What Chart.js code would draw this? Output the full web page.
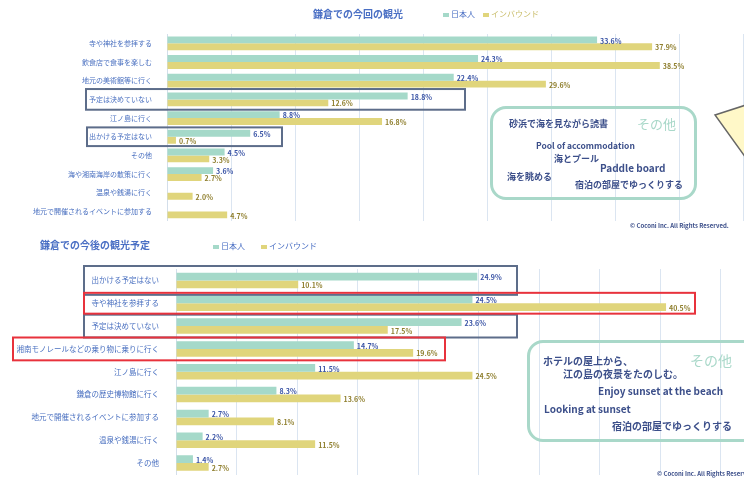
<!DOCTYPE html>
<html>
<head>
<meta charset="utf-8">
<script src="https://cdn.jsdelivr.net/npm/chart.js@4.4.1/dist/chart.umd.min.js"></script>
<style>
body{margin:0;width:744px;height:480px;overflow:hidden;position:relative;background:#fff;font-family:"Noto Sans CJK JP",sans-serif;}
.wrap{position:absolute;}
.t{position:absolute;white-space:nowrap;}
.title{font-size:10px;font-weight:bold;color:#4a6fc4;}
.leg{font-size:8px;color:#4a6fc4;}
.leg i{display:inline-block;width:6px;height:4px;margin-right:2px;vertical-align:middle;}
.box{position:absolute;border:3px solid #a9d8c9;border-radius:16px;}
.note{font-size:9px;color:#3c4f8a;font-weight:bold;}
.other{font-size:13px;color:#a9d8c9;}
.copy{font-size:6px;color:#3c4f8a;font-weight:bold;}
</style>
</head>
<body>
<div class="wrap" style="left:0;top:0;width:744px;height:232px"><canvas id="topChart"></canvas></div>
<div class="wrap" style="left:0;top:232px;width:781px;height:256px"><canvas id="bottomChart"></canvas></div>

<div class="t title" style="left:313px;top:6px">鎌倉での今回の観光</div>
<div class="t leg" style="left:443px;top:8px"><i style="background:#a5d9c9"></i>日本人　<i style="background:#e0d57c"></i><span style="color:#c9bd6a">インバウンド</span></div>
<div class="t title" style="left:40px;top:237px">鎌倉での今後の観光予定</div>
<div class="t leg" style="left:213px;top:240px"><i style="background:#a5d9c9"></i>日本人　　<i style="background:#e0d57c"></i>インバウンド</div>

<!-- その他 (top) -->
<div class="box" style="left:490px;top:106px;width:201px;height:88px"></div>
<div class="t note" style="left:509px;top:117px">砂浜で海を見ながら読書</div>
<div class="t other" style="left:637px;top:114px">その他</div>
<div class="t note" style="left:536px;top:139px;font-size:8.5px">Pool of accommodation</div>
<div class="t note" style="left:554px;top:152px">海とプール</div>
<div class="t note" style="left:600px;top:160px;font-size:10px">Paddle board</div>
<div class="t note" style="left:507px;top:170px">海を眺める</div>
<div class="t note" style="left:575px;top:178px">宿泊の部屋でゆっくりする</div>
<div class="t copy" style="left:630px;top:221px">© Coconi Inc. All Rights Reserved.</div>

<!-- その他 (bottom) -->
<div class="box" style="left:527px;top:340px;width:230px;height:96px"></div>
<div class="t note" style="left:543px;top:353px;font-size:10px">ホテルの屋上から、</div>
<div class="t note" style="left:563px;top:366px;font-size:10px">江の島の夜景をたのしむ。</div>
<div class="t other" style="left:690px;top:350px;font-size:14px">その他</div>
<div class="t note" style="left:598px;top:383px;font-size:10px">Enjoy sunset at the beach</div>
<div class="t note" style="left:544px;top:401px;font-size:10px">Looking at sunset</div>
<div class="t note" style="left:612px;top:418px;font-size:10px">宿泊の部屋でゆっくりする</div>
<div class="t copy" style="left:657px;top:469px">© Coconi Inc. All Rights Reserved.</div>

<svg style="position:absolute;left:0;top:0" width="744" height="480">
  <polygon points="715,115 746,105 746,158" fill="#fff8c8" stroke="#666" stroke-width="1.5"/>
</svg>

<script>
const topCats = ['寺や神社を参拝する', '飲食店で食事を楽しむ', '地元の美術館等に行く', '予定は決めていない', '江ノ島に行く',
  '出かける予定はない', 'その他', '海や湘南海岸の散策に行く', '温泉や銭湯に行く', '地元で開催されるイベントに参加する'];
const topJapanese = [33.6, 24.3, 22.4, 18.8, 8.8, 6.5, 4.5, 3.6, 0, 0];
const topInbound = [37.9, 38.5, 29.6, 12.6, 16.8, 0.7, 3.3, 2.7, 2.0, 4.7];

const bottomCats = ['出かける予定はない', '寺や神社を参拝する', '予定は決めていない', '湘南モノレールなどの乗り物に乗りに行く',
  '江ノ島に行く', '鎌倉の歴史博物館に行く', '地元で開催されるイベントに参加する', '温泉や銭湯に行く', 'その他'];
const bottomJapanese = [24.9, 24.5, 23.6, 14.7, 11.5, 8.3, 2.7, 2.2, 1.4];
const bottomInbound = [10.1, 40.5, 17.5, 19.6, 24.5, 13.6, 8.1, 11.5, 2.7];

const teal = '#a5d9c9', yellow = '#e0d57c';
const navy = '#5d6d8a', red = '#e8323c';

// value text at the end of each bar
const valueLabels = {
  id: 'valueLabels',
  afterDatasetsDraw(chart) {
    const ctx = chart.ctx;
    ctx.save();
    ctx.font = 'bold 7px "Noto Sans CJK JP"';
    ctx.textBaseline = 'middle';
    chart.data.datasets.forEach((ds, i) => {
      chart.getDatasetMeta(i).data.forEach((bar, j) => {
        const v = ds.data[j];
        if (!v) return;
        ctx.fillStyle = ds.labelColor;
        ctx.fillText(v.toFixed(1) + '%', bar.x + 3, bar.y + 1);
      });
    });
    ctx.restore();
  }
};

// highlight frames around some categories
function makeBoxes(list) {
  return {
    id: 'boxes',
    afterDraw(chart) {
      const y = chart.scales.y, ctx = chart.ctx;
      const half = y.height / chart.data.labels.length / 2;
      ctx.save();
      ctx.lineWidth = 2;
      list.forEach(b => {
        const top = y.getPixelForValue(b.from) - half - b.pad;
        const bottom = y.getPixelForValue(b.to) + half + b.pad;
        ctx.strokeStyle = b.color;
        ctx.strokeRect(b.x0, top, b.x1 - b.x0, bottom - top);
      });
      ctx.restore();
    }
  };
}

function makeChart(id, cats, jp, inb, opt) {
  return new Chart(document.getElementById(id), {
    type: 'bar',
    data: {
      labels: cats,
      datasets: [
        { label: '日本人', data: jp, backgroundColor: teal, labelColor: '#3b55a6' },
        { label: 'インバウンド', data: inb, backgroundColor: yellow, labelColor: '#8f7f2e' }
      ]
    },
    options: {
      indexAxis: 'y',
      responsive: true,
      maintainAspectRatio: false,
      animation: false,
      categoryPercentage: opt.catPct,
      barPercentage: 1,
      layout: { padding: opt.padding },
      plugins: { legend: { display: false }, tooltip: { enabled: false } },
      scales: {
        x: {
          min: 0, max: opt.max,
          ticks: { display: false, stepSize: 5 },
          grid: { color: '#dbe5f1', drawTicks: false },
          border: { display: false },
          afterFit: s => { s.height = 0; }
        },
        y: {
          grid: { display: false },
          border: { color: '#d3deea' },
          ticks: { color: '#4a70c0', font: { size: opt.labelSize, family: 'Noto Sans CJK JP' }, padding: opt.tickPad, autoSkip: false },
          afterFit: s => { s.width = opt.axisLeft; }
        }
      }
    },
    plugins: [valueLabels, makeBoxes(opt.boxes)]
  });
}

makeChart('topChart', topCats, topJapanese, topInbound, {
  max: 45, catPct: 0.74, axisLeft: 167, tickPad: 7, labelSize: 7,
  padding: { top: 34, bottom: 5, left: 0, right: 1 },
  boxes: [
    { from: 3, to: 3, x0: 86, x1: 465, pad: 1, color: navy },
    { from: 5, to: 5, x0: 87, x1: 282, pad: 0, color: navy }
  ]
});

makeChart('bottomChart', bottomCats, bottomJapanese, bottomInbound, {
  max: 50, catPct: 0.68, axisLeft: 176, tickPad: 9, labelSize: 7.5,
  padding: { top: 37, bottom: 5, left: 0, right: 0 },
  boxes: [
    { from: 0, to: 0, x0: 84, x1: 517, pad: 3, color: navy },
    { from: 2, to: 2, x0: 84, x1: 517, pad: 0, color: navy },
    { from: 1, to: 1, x0: 84, x1: 695, pad: -1, color: red },
    { from: 3, to: 3, x0: 13, x1: 445, pad: 0, color: red }
  ]
});
</script>
</body>
</html>
